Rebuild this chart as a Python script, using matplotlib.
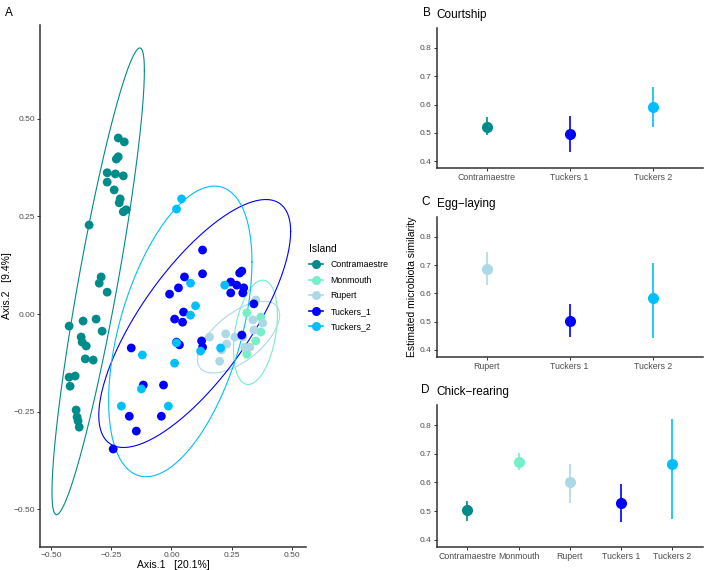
import numpy as np
import matplotlib
matplotlib.use('Agg')
import matplotlib.pyplot as plt
from matplotlib.lines import Line2D

plt.rcParams['font.family'] = ['Liberation Sans', 'DejaVu Sans']

########################################################################################################################
# PCoA scores (Axis.1, Axis.2) per island.
islands = ['Contramaestre', 'Monmouth', 'Rupert', 'Tuckers_1', 'Tuckers_2']
colors = {'Contramaestre': '#008B8B', 'Monmouth': '#76EEC6', 'Rupert': '#ADD8E6',
          'Tuckers_1': '#0000FF', 'Tuckers_2': '#00BFFF'}

contra_x = [-0.221, -0.196, -0.221, -0.229, -0.267, -0.233, -0.200, -0.267, -0.238, -0.213, -0.217, -0.200, -0.188,
            -0.342, -0.292, -0.300, -0.267, -0.425, -0.367, -0.313, -0.288, -0.375, -0.371, -0.354, -0.358, -0.325,
            -0.425, -0.400, -0.421, -0.396, -0.392, -0.388, -0.383]
contra_y = [0.451, 0.441, 0.403, 0.397, 0.362, 0.359, 0.354, 0.338, 0.318, 0.295, 0.285, 0.262, 0.267,
            0.228, 0.095, 0.079, 0.056, -0.031, -0.018, -0.013, -0.044, -0.059, -0.072, -0.082, -0.115, -0.118,
            -0.162, -0.159, -0.185, -0.246, -0.264, -0.274, -0.290]

monm_x = [0.313, 0.371, 0.371, 0.350, 0.313]
monm_y = [0.003, -0.008, -0.046, -0.069, -0.103]

rupert_x = [0.158, 0.200, 0.225, 0.229, 0.263, 0.338, 0.379, 0.342, 0.296, 0.304, 0.325, 0.350, 0.208]
rupert_y = [-0.059, -0.121, -0.051, -0.077, -0.059, -0.015, -0.023, -0.041, -0.059, -0.085, -0.085, 0.036, -0.092]

tuck1_x = [0.129, 0.129, 0.054, 0.029, -0.008, 0.246, 0.283, 0.292, 0.271, 0.300, 0.246, 0.296, 0.342, 0.013,
           0.050, 0.046, -0.167, 0.021, 0.033, 0.125, 0.129, 0.292, -0.117, -0.033, -0.175, -0.042, -0.146, -0.242]
tuck1_y = [0.164, 0.103, 0.095, 0.067, 0.051, 0.082, 0.105, 0.110, 0.074, 0.067, 0.054, 0.054, 0.026, -0.013,
           0.005, -0.021, -0.087, -0.072, -0.079, -0.069, -0.085, -0.054, -0.182, -0.182, -0.262, -0.262, -0.300,
           -0.346]

tuck2_x = [0.042, 0.021, 0.079, 0.221, 0.100, 0.079, 0.021, 0.121, 0.204, -0.121, 0.013, -0.125, -0.208, -0.013]
tuck2_y = [0.295, 0.269, 0.079, 0.074, 0.021, -0.003, -0.074, -0.095, -0.087, -0.105, -0.126, -0.192, -0.236, -0.236]

scores = {'Contramaestre': (contra_x, contra_y), 'Monmouth': (monm_x, monm_y), 'Rupert': (rupert_x, rupert_y),
          'Tuckers_1': (tuck1_x, tuck1_y), 'Tuckers_2': (tuck2_x, tuck2_y)}

# Similarity estimates (mean, lower, upper) per breeding stage.
court_sites = ['Contramaestre', 'Tuckers 1', 'Tuckers 2']
court_mean = [0.520, 0.495, 0.591]
court_low = [0.492, 0.432, 0.520]
court_high = [0.555, 0.559, 0.662]

egg_sites = ['Rupert', 'Tuckers 1', 'Tuckers 2']
egg_mean = [0.687, 0.501, 0.582]
egg_low = [0.628, 0.445, 0.442]
egg_high = [0.747, 0.561, 0.708]

chick_sites = ['Contramaestre', 'Monmouth', 'Rupert', 'Tuckers 1', 'Tuckers 2']
chick_mean = [0.505, 0.670, 0.600, 0.529, 0.663]
chick_low = [0.466, 0.642, 0.529, 0.463, 0.473]
chick_high = [0.536, 0.701, 0.663, 0.596, 0.821]

site_colors = {'Contramaestre': '#008B8B', 'Monmouth': '#76EEC6', 'Rupert': '#ADD8E6',
               'Tuckers 1': '#0000FF', 'Tuckers 2': '#00BFFF'}


########################################################################################################################
# stat_ellipse equivalent (type 't', level 0.95) using a cov.trob style robust estimate.
def cov_trob(X, nu=5, tol=1e-4, maxit=50):
    n, p = X.shape
    w = np.ones(n)
    loc = X.mean(axis=0)
    for _ in range(maxit):
        w0 = w
        D = X - loc
        S = (D * (w / w.sum())[:, None]).T @ D
        Q = np.einsum('ij,jk,ik->i', D, np.linalg.inv(S), D)
        w = (nu + p) / (nu + Q)
        loc = (w[:, None] * X).sum(axis=0) / w.sum()
        if np.all(np.abs(w - w0) < tol):
            break
    D = X - loc
    cov = (D * w[:, None]).T @ D / n
    return loc, cov


def ellipse_path(x, y, level=0.95, segments=100):
    X = np.column_stack([x, y])
    loc, cov = cov_trob(X)
    dfd = len(x) - 1
    qf = dfd / 2 * ((1 - level) ** (-2 / dfd) - 1)
    radius = np.sqrt(2 * qf)
    ang = np.linspace(0, 2 * np.pi, segments + 1)
    circ = np.column_stack([np.cos(ang), np.sin(ang)])
    chol = np.linalg.cholesky(cov).T
    pts = loc + radius * circ @ chol
    return pts[:, 0], pts[:, 1]


########################################################################################################################
fig = plt.figure(figsize=(7.09, 5.70), dpi=100)
tick_col = '#4D4D4D'


def style(ax):
    for s in ['top', 'right']:
        ax.spines[s].set_visible(False)
    for s in ['left', 'bottom']:
        ax.spines[s].set_color('#333333')
        ax.spines[s].set_linewidth(1.1)
    ax.tick_params(labelsize=6, labelcolor=tick_col, color='#333333', length=2.5, width=0.7, pad=1.2)


axA = fig.add_axes([0.0564, 0.0404, 0.375, 0.916])
for isl in islands:
    xs, ys = scores[isl]
    ex, ey = ellipse_path(xs, ys)
    axA.plot(ex, ey, color=colors[isl], lw=0.8, zorder=2)
    axA.scatter(xs, ys, s=40, color=colors[isl], edgecolors='none', zorder=3)

axA.set_xlim(-0.546, 0.558)
axA.set_ylim(-0.597, 0.741)
axA.set_xticks([-0.5, -0.25, 0, 0.25, 0.5])
axA.set_xticklabels(['\u22120.50', '\u22120.25', '0.00', '0.25', '0.50'])
axA.set_yticks([-0.5, -0.25, 0, 0.25, 0.5])
axA.set_yticklabels(['\u22120.50', '\u22120.25', '0.00', '0.25', '0.50'])
style(axA)
axA.set_xlabel('Axis.1   [20.1%]', fontsize=7.5, labelpad=1)
axA.set_ylabel('Axis.2   [9.4%]', fontsize=7.5, labelpad=1)

handles = [Line2D([0], [0], color=colors[isl], lw=1.2, marker='o', markersize=6.5, markeredgewidth=0)
           for isl in islands]
leg = axA.legend(handles, islands, title='Island', loc='center left', bbox_to_anchor=(1.0, 0.497),
                 frameon=False, fontsize=6.3, title_fontsize=7.5, handlelength=1.6, labelspacing=0.75,
                 handletextpad=0.8, borderaxespad=0)
leg._legend_box.align = 'left'


def stage_panel(rect, sites, mean, low, high, title):
    ax = fig.add_axes(rect)
    pos = np.arange(len(sites))
    for i, site in enumerate(sites):
        c = site_colors[site]
        ax.errorbar(pos[i], mean[i], yerr=[[mean[i] - low[i]], [high[i] - mean[i]]], fmt='o', color=c,
                    markersize=8, capsize=4, elinewidth=1.2, capthick=1.2, markeredgewidth=0)
    ax.set_xlim(-0.6, len(sites) - 0.4)
    ax.set_ylim(0.375, 0.87)
    ax.set_xticks(pos)
    ax.set_xticklabels(sites)
    ax.set_yticks([0.4, 0.5, 0.6, 0.7, 0.8])
    ax.set_title(title, loc='left', fontsize=8.5, pad=7)
    style(ax)
    ax.tick_params(axis='x', labelsize=6.3)
    return ax


axB = stage_panel([0.616, 0.705, 0.375, 0.2456], court_sites, court_mean, court_low, court_high, 'Courtship')
axC = stage_panel([0.616, 0.3737, 0.375, 0.2456], egg_sites, egg_mean, egg_low, egg_high, 'Egg\u2212laying')
axD = stage_panel([0.616, 0.0404, 0.375, 0.249], chick_sites, chick_mean, chick_low, chick_high,
                  'Chick\u2212rearing')
axC.set_ylabel('Estimated microbiota similarity', fontsize=7.5, labelpad=2)

for lab, x, y in [('A', 0.007, 0.988), ('B', 0.596, 0.988), ('C', 0.594, 0.657), ('D', 0.594, 0.327)]:
    fig.text(x, y, lab, fontsize=8.5, va='top', ha='left')

plt.savefig('out.png', dpi=100)
